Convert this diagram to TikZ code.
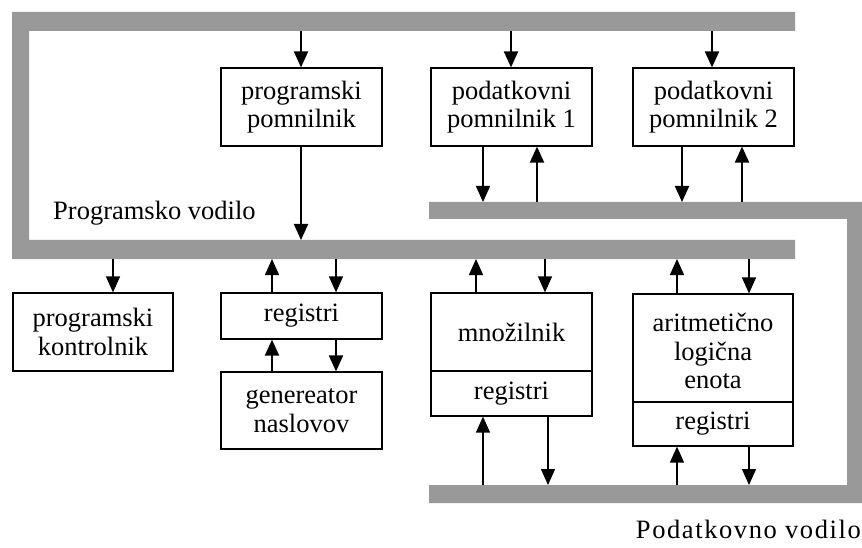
\documentclass[tikz,border=0pt]{standalone}
\usepackage{fontspec}
\setmainfont{Liberation Serif}
\usetikzlibrary{arrows.meta}
\definecolor{busgray}{RGB}{153,153,153}
\begin{document}
\begin{tikzpicture}[x=1pt,y=-1pt,
  bus/.style={fill=busgray},
  blk/.style={draw,line width=1.2pt,inner sep=0pt,align=center,
    font=\fontsize{26.5}{28.5}\selectfont},
  lbl/.style={inner sep=0pt,font=\fontsize{26.5}{28.5}\selectfont},
  arr/.style={line width=1.4pt,-{Triangle[length=16pt,width=14pt]}},
  arrb/.style={line width=2pt,-{Triangle[length=16pt,width=14pt]}}]
\useasboundingbox (0,0) rectangle (862,548);

% program bus (C shape) and data bus (mirrored C shape)
\fill[bus] (12,12) -- (795,12) -- (795,31) -- (29,31) -- (29,240)
  -- (795,240) -- (795,259) -- (12,259) -- cycle;
\fill[bus] (429,202) -- (862,202) -- (862,503) -- (429,503) -- (429,485)
  -- (847,485) -- (847,219) -- (429,219) -- cycle;

% bus edges used as connector ends
\coordinate (pbtop) at (0,31);
\coordinate (pbmid) at (0,240);
\coordinate (pbbot) at (0,259);
\coordinate (dbup) at (0,202);
\coordinate (dblow) at (0,485);

% blocks
\node[blk,minimum width=161pt,minimum height=78pt] (pp) at (301.5,107)
  {programski\\pomnilnik};
\node[blk,minimum width=161pt,minimum height=78pt] (pd1) at (511.5,107)
  {podatkovni\\pomnilnik 1};
\node[blk,minimum width=161pt,minimum height=78pt] (pd2) at (713.5,107)
  {podatkovni\\pomnilnik 2};
\node[blk,minimum width=160pt,minimum height=78pt] (pk) at (93,332)
  {programski\\kontrolnik};
\node[blk,minimum width=161pt,minimum height=46pt] (reg) at (301.5,316)
  {registri};
\node[blk,minimum width=161pt,minimum height=77pt] (gen) at (301.5,410.5)
  {genereator\\naslovov};
\node[blk,minimum width=161pt,minimum height=78pt] (mul) at (511.5,332)
  {množilnik};
\node[blk,minimum width=161pt,minimum height=45pt] (mreg) at (511.5,393.5)
  {registri};
\node[blk,minimum width=160pt,minimum height=108pt] (alu) at (713,348) {};
\node[lbl,align=center] (alutxt) at (713,351)
  {aritmetično\\logična\\enota};
\node[blk,minimum width=160pt,minimum height=44pt] (areg) at (713,424)
  {registri};

% bus labels
\node[lbl,anchor=base west] (plbl) at (53,220) {Programsko vodilo};
\node[lbl,anchor=base east] (dlbl) at (861,538)
  {\addfontfeatures{LetterSpace=6}Podatkovno vodilo};

% program bus to memories
\draw[arrb] ([xshift=-0.5pt]pp.north |- pbtop) -- ([xshift=-0.5pt]pp.north);
\draw[arrb] ([xshift=-0.5pt]pp.south) -- ([xshift=-0.5pt]pp.south |- pbmid);
\draw[arrb] ([xshift=-0.5pt]pd1.north |- pbtop) -- ([xshift=-0.5pt]pd1.north);
\draw[arrb] ([xshift=-1.5pt]pd2.north |- pbtop) -- ([xshift=-1.5pt]pd2.north);

% data memories to upper data bus
\draw[arr]  ([xshift=-28.5pt]pd1.south) -- ([xshift=-28.5pt]pd1.south |- dbup);
\draw[arrb] ([xshift=25.5pt]pd1.south |- dbup) -- ([xshift=25.5pt]pd1.south);
\draw[arrb] ([xshift=-31.5pt]pd2.south) -- ([xshift=-31.5pt]pd2.south |- dbup);
\draw[arrb] ([xshift=28.5pt]pd2.south |- dbup) -- ([xshift=28.5pt]pd2.south);

% program bus to lower blocks
\draw[arr]  ([xshift=20pt]pk.north |- pbbot) -- ([xshift=20pt]pk.north);
\draw[arr]  ([xshift=-29.5pt]reg.north) -- ([xshift=-29.5pt]reg.north |- pbbot);
\draw[arr]  ([xshift=34.5pt]reg.north |- pbbot) -- ([xshift=34.5pt]reg.north);
\draw[arrb] ([xshift=-29.5pt]gen.north) -- ([xshift=-29.5pt]reg.south);
\draw[arrb] ([xshift=34.5pt]reg.south) -- ([xshift=34.5pt]gen.north);
\draw[arr]  ([xshift=-35.5pt]mul.north) -- ([xshift=-35.5pt]mul.north |- pbbot);
\draw[arr]  ([xshift=33.5pt]mul.north |- pbbot) -- ([xshift=33.5pt]mul.north);
\draw[arr]  ([xshift=-36pt]alu.north) -- ([xshift=-36pt]alu.north |- pbbot);
\draw[arr]  ([xshift=36pt]alu.north |- pbbot) -- ([xshift=36pt]alu.north);

% registers to lower data bus
\draw[arr]  ([xshift=-28.5pt]mreg.south |- dblow) -- ([xshift=-28.5pt]mreg.south);
\draw[arr]  ([xshift=36.5pt]mreg.south) -- ([xshift=36.5pt]mreg.south |- dblow);
\draw[arr]  ([xshift=-36pt]areg.south |- dblow) -- ([xshift=-36pt]areg.south);
\draw[arr]  ([xshift=36pt]areg.south) -- ([xshift=36pt]areg.south |- dblow);
\end{tikzpicture}
\end{document}
